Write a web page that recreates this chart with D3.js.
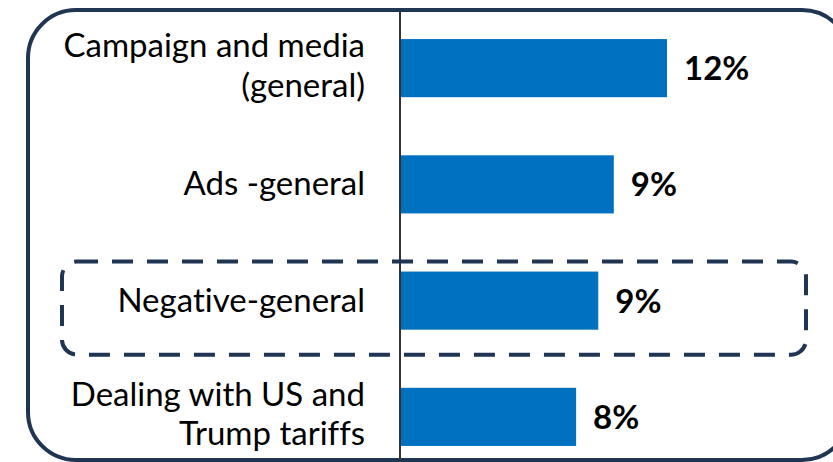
<!DOCTYPE html>
<html>
<head>
<meta charset="utf-8">
<script src="https://cdn.jsdelivr.net/npm/d3@7"></script>
<style>
  html, body { margin: 0; padding: 0; background: #ffffff; }
  svg { display: block; }
  text { font-family: Lato, "Noto Sans", sans-serif; font-variant-ligatures: none; }
</style>
</head>
<body>
<svg id="chart" width="833" height="462"></svg>
<script>
// ---- data ----
const categories = [
  "Campaign and media\n(general)",
  "Ads -general",
  "Negative-general",
  "Dealing with US and\nTrump tariffs"
];
const values = [12.0, 9.6, 8.9, 7.9];
const valueLabels = ["12%", "9%", "9%", "8%"];
const highlighted = ["Negative-general"];

// ---- layout ----
const W = 833, H = 462;
const axisX = 400;
const navy = "#1f3552";
const barColor = "#0070c0";
const fontSize = 33;

const svg = d3.select("#chart");

const y = d3.scaleBand()
  .domain(categories)
  .range([10, 475])
  .paddingInner(0.5)
  .paddingOuter(0.25);

const x = d3.scaleLinear()
  .domain([0, 12])
  .range([axisX + 1, 667]);

// outer rounded frame
svg.append("rect")
  .attr("x", 28).attr("y", 10)
  .attr("width", 822).attr("height", 450)
  .attr("rx", 48).attr("ry", 48)
  .attr("fill", "none")
  .attr("stroke", navy)
  .attr("stroke-width", 4);

// bars
svg.append("g").selectAll("rect")
  .data(categories)
  .join("rect")
  .attr("x", x(0))
  .attr("y", d => y(d))
  .attr("width", (d, i) => x(values[i]) - x(0))
  .attr("height", y.bandwidth())
  .attr("fill", barColor);

// value labels
svg.append("g").selectAll("text")
  .data(categories)
  .join("text")
  .attr("x", (d, i) => x(values[i]) + 17)
  .attr("y", d => y(d) + y.bandwidth() / 2 + 12)
  .attr("font-size", fontSize)
  .attr("font-weight", "bold")
  .attr("fill", "#000")
  .text((d, i) => valueLabels[i]);

// category axis
const axis = d3.axisLeft(y).tickSize(0).tickPadding(35).tickSizeOuter(0);
const gAxis = svg.append("g")
  .attr("transform", `translate(${axisX},0)`)
  .call(axis);
gAxis.select(".domain")
  .attr("stroke", "#333")
  .attr("stroke-width", 2)
  .attr("d", `M0,10V${H}`);
gAxis.selectAll(".tick text")
  .attr("font-size", fontSize)
  .attr("font-family", "Lato, 'Noto Sans', sans-serif")
  .attr("fill", "#000")
  .attr("dy", null)
  .each(function(d) {
    const lines = d.split("\n");
    const t = d3.select(this).text(null);
    const baseY = lines.length > 1 ? -11 : 11;
    lines.forEach((ln, k) => {
      t.append("tspan")
        .attr("x", -35)
        .attr("y", baseY + k * 39.5)
        .text(ln);
    });
  });

// dashed highlight box
highlighted.forEach(h => {
  svg.append("rect")
    .attr("x", 62)
    .attr("y", y(h) - 10)
    .attr("width", 744)
    .attr("height", y.bandwidth() + 35)
    .attr("rx", 15).attr("ry", 15)
    .attr("fill", "none")
    .attr("stroke", navy)
    .attr("stroke-width", 4)
    .attr("stroke-dasharray", "21,14");
});
</script>
</body>
</html>
